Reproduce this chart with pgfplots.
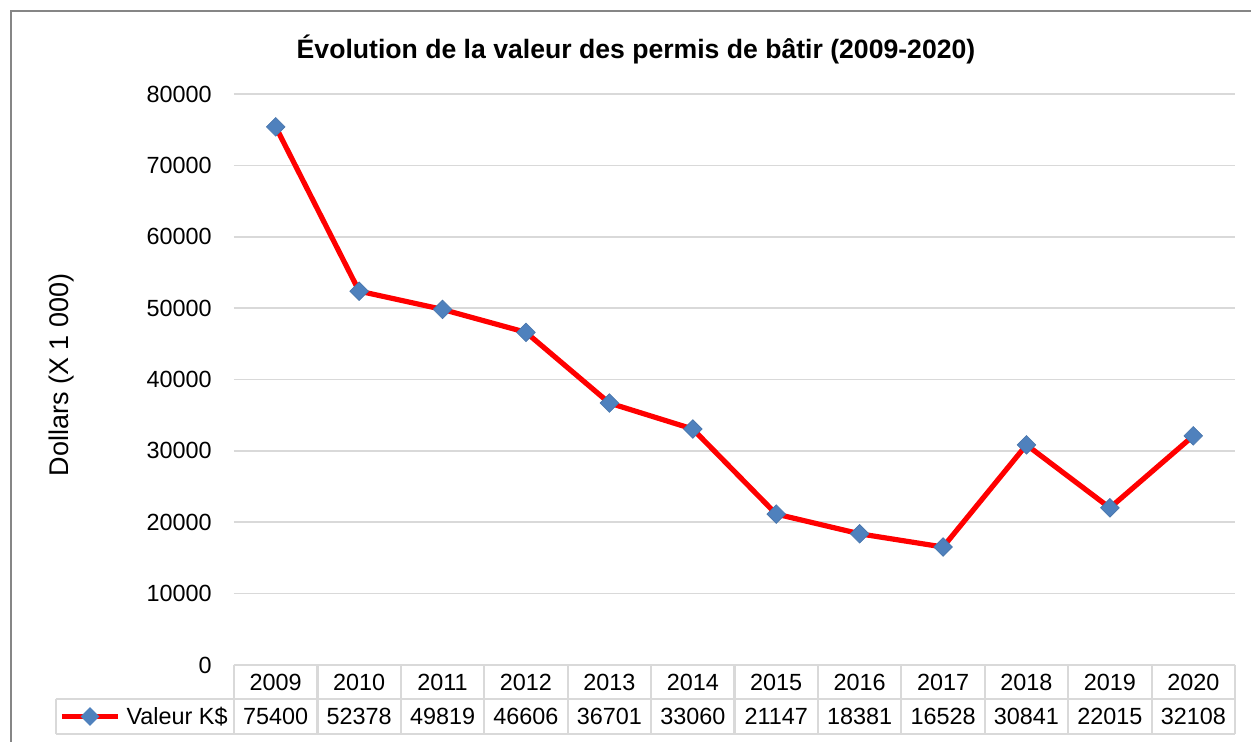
\documentclass[border=0pt]{standalone}
\usepackage{fontspec}
\setmainfont{Liberation Sans}
\usepackage{pgfplots}
\pgfplotsset{compat=1.18}
\definecolor{serieblue}{HTML}{4F81BD}
\definecolor{gridgray}{HTML}{D9D9D9}
\definecolor{framegray}{HTML}{868686}
\begin{document}
\fontsize{11.7}{14}\selectfont
\begin{tikzpicture}
% 1 px of the reference = 0.5pt, origin at the lower left corner of the plot area
\useasboundingbox (-117pt,-38.5pt) rectangle (508.5pt,332.5pt);
\draw[framegray, line width=1pt] (-111.5pt,-40pt) -- (-111.5pt,327pt) -- (510pt,327pt);
\begin{axis}[
  at={(0pt,0pt)}, anchor=south west,
  scale only axis, width=500.5pt, height=285.5pt,
  xmin=-0.5, xmax=11.5, ymin=0, ymax=80000,
  xtick=\empty,
  ytick={0,10000,...,80000},
  axis line style={draw=none},
  ymajorgrids, grid style={gridgray, line width=0.8pt},
  major tick length=0pt,
  yticklabel style={anchor=east, inner sep=0pt, xshift=-11pt},
  /pgf/number format/assume math mode=true,
  scaled y ticks=false,
  y tick label style={/pgf/number format/1000 sep={}},
  tick label style={font=\fontsize{11.7}{14}\selectfont},
  clip=false,
]
\addplot[red, line width=2.6pt, mark=square*,
  mark options={rotate=45, fill=serieblue, draw=serieblue!90!black, line width=0.3pt, solid},
  mark size=3.3pt]
  coordinates {(0,75400) (1,52378) (2,49819) (3,46606) (4,36701) (5,33060)
               (6,21147) (7,18381) (8,16528) (9,30841) (10,22015) (11,32108)};
\end{axis}
% title and y label
\node[font=\bfseries\fontsize{13.3}{16}\selectfont] at (201pt,308pt)
  {Évolution de la valeur des permis de bâtir (2009-2020)};
\node[rotate=90, font=\fontsize{13.5}{16}\selectfont] at (-86pt,145pt) {Dollars (X 1 000)};
% data table
\begin{scope}[gridgray, line width=1.1pt]
  \draw (0pt,0pt) -- (500.5pt,0pt);
  \draw (-89pt,-17pt) -- (500.5pt,-17pt);
  \draw (-89pt,-34.5pt) -- (500.5pt,-34.5pt);
  \draw (-89pt,-17pt) -- (-89pt,-34.5pt);
  \foreach \i in {0,...,12} \draw ({\i*41.7083pt},0pt) -- ({\i*41.7083pt},-34.5pt);
\end{scope}
\foreach \yr [count=\i from 0] in {2009,2010,2011,2012,2013,2014,2015,2016,2017,2018,2019,2020}
  \node at ({(\i+0.5)*41.7083pt},-8.5pt) {\yr};
\foreach \v [count=\i from 0] in {75400,52378,49819,46606,36701,33060,21147,18381,16528,30841,22015,32108}
  \node at ({(\i+0.5)*41.7083pt},-25.75pt) {\v};
\draw[red, line width=2.6pt] (-86pt,-25.75pt) -- (-58pt,-25.75pt);
\fill[serieblue] (-72pt,-21.1pt) -- (-67.35pt,-25.75pt) -- (-72pt,-30.4pt) -- (-76.65pt,-25.75pt) -- cycle;
\node[anchor=east, inner sep=0pt] at (-3pt,-25.75pt) {Valeur K\$};
\end{tikzpicture}
\end{document}
